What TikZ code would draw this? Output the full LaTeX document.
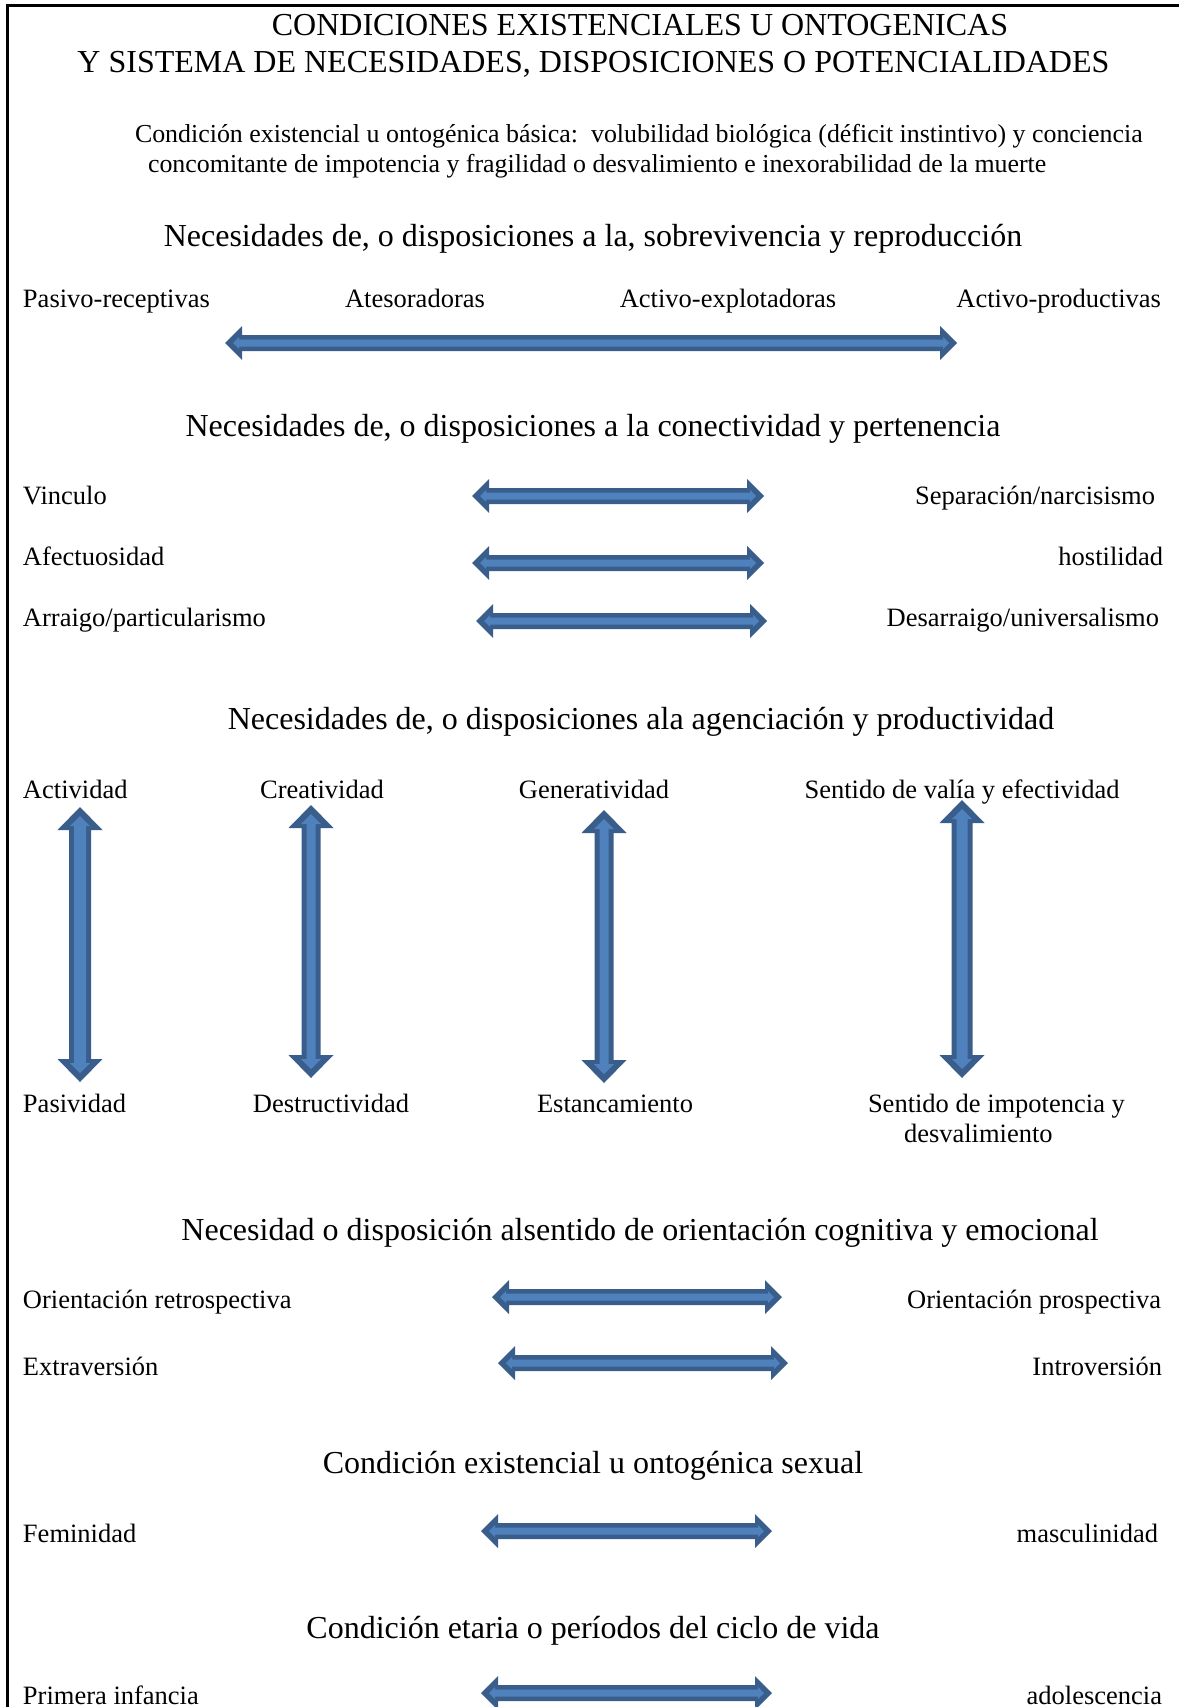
\documentclass[tikz,border=0pt]{standalone}
\usepackage{fontspec}
\setmainfont{Liberation Serif}
\definecolor{arrdark}{HTML}{3A5E8C}
\definecolor{arrlight}{HTML}{4F81BD}
\newcommand{\myharrow}[3]{%
 \fill[arrdark] (#1,#3) -- ({#1+17},{#3-17}) -- ({#1+17},{#3-8}) -- ({#2-17},{#3-8}) -- ({#2-17},{#3-17}) -- (#2,#3) -- ({#2-17},{#3+17}) -- ({#2-17},{#3+8}) -- ({#1+17},{#3+8}) -- ({#1+17},{#3+17}) -- cycle;
 \fill[arrlight] ({#1+8},#3) -- ({#1+14},{#3-6}) -- ({#1+14},{#3-3.5}) -- ({#2-14},{#3-3.5}) -- ({#2-14},{#3-6}) -- ({#2-8},#3) -- ({#2-14},{#3+6}) -- ({#2-14},{#3+3.5}) -- ({#1+14},{#3+3.5}) -- ({#1+14},{#3+6}) -- cycle;
}
\newcommand{\myvarrow}[4]{%
 \fill[arrdark] (#1,#2) -- ({#1+22.5},{#2+23}) -- ({#1+#4},{#2+23}) -- ({#1+#4},{#3-23}) -- ({#1+22.5},{#3-23}) -- (#1,#3) -- ({#1-22.5},{#3-23}) -- ({#1-#4},{#3-23}) -- ({#1-#4},{#2+23}) -- ({#1-22.5},{#2+23}) -- cycle;
 \fill[arrlight] (#1,{#2+9}) -- ({#1+10},{#2+19}) -- ({#1+#4-5},{#2+19}) -- ({#1+#4-5},{#3-19}) -- ({#1+10},{#3-19}) -- (#1,{#3-9}) -- ({#1-10},{#3-19}) -- ({#1-#4+5},{#3-19}) -- ({#1-#4+5},{#2+19}) -- ({#1-10},{#2+19}) -- cycle;
}
\begin{document}
\begin{tikzpicture}[x=1pt,y=-1pt,
  every node/.style={inner sep=0pt,outer sep=0pt},
  head/.style={font=\fontsize{32}{36}\selectfont,anchor=base},
  lbl/.style={font=\fontsize{26.5}{30}\selectfont},
  intro/.style={font=\fontsize{25.9}{30}\selectfont,anchor=base west},
  lw/.style={lbl,anchor=base west},
  le/.style={lbl,anchor=base east},
  lc/.style={lbl,anchor=base}]
\useasboundingbox (0,0) rectangle (1178,1707);
\draw[line width=2.5pt] (7.5,1720) -- (7.5,5.5) -- (1190,5.5);

% title
\node[head] (t1) at (640,36) {CONDICIONES EXISTENCIALES U ONTOGENICAS};
\node[head] (t2) at (593.5,73) {Y SISTEMA DE NECESIDADES, DISPOSICIONES O POTENCIALIDADES};
\node[intro] (i1) at (135,143) {Condición existencial u ontogénica básica:\ \ volubilidad biológica (déficit instintivo) y conciencia};
\node[intro] (i2) at (148,173) {concomitante de impotencia y fragilidad o desvalimiento e inexorabilidad de la muerte};

% section 1
\node[head] (h1) at (593,246) {Necesidades de, o disposiciones a la, sobrevivencia y reproducción};
\node[lw] (a1) at (23,307) {Pasivo-receptivas};
\node[lc] (a2) at (415,307) {Atesoradoras};
\node[lc] (a3) at (728,307) {Activo-explotadoras};
\node[le] (a4) at (1161,307) {Activo-productivas};
\myharrow{225}{957}{343}

% section 2
\node[head] (h2) at (593,436) {Necesidades de, o disposiciones a la conectividad y pertenencia};
\node[lw] (b1) at (23,504) {Vinculo};
\node[le] (b2) at (1155,504) {Separación/narcisismo};
\myharrow{472}{764}{496}
\node[lw] (c1) at (23,565) {Afectuosidad};
\node[le] (c2) at (1163,565) {hostilidad};
\myharrow{472}{764}{563}
\node[lw] (d1) at (23,626) {Arraigo/particularismo};
\node[le] (d2) at (1159,626) {Desarraigo/universalismo};
\myharrow{476}{767}{621}

% section 3
\node[head] (h3) at (641,729) {Necesidades de, o disposiciones ala agenciación y productividad};
\node[lw] (e1) at (23,798) {Actividad};
\node[lc] (e2) at (322,798) {Creatividad};
\node[lc] (e3) at (594,798) {Generatividad};
\node[lc] (e4) at (962,798) {Sentido de valía y efectividad};
\myvarrow{80}{807}{1082}{11}
\myvarrow{311}{805}{1078}{9.5}
\myvarrow{604}{810}{1083}{9.5}
\myvarrow{962}{800}{1078}{10.5}
\node[lw] (f1) at (23,1112) {Pasividad};
\node[lc] (f2) at (331,1112) {Destructividad};
\node[lc] (f3) at (615,1112) {Estancamiento};
\node[lw] (f4) at (868,1112) {Sentido de impotencia y};
\node[lw] (f5) at (904,1142) {desvalimiento};

% section 4
\node[head] (h4) at (640,1240) {Necesidad o disposición alsentido de orientación cognitiva y emocional};
\node[lw] (g1) at (23,1308) {Orientación retrospectiva};
\node[le] (g2) at (1161,1308) {Orientación prospectiva};
\myharrow{492}{782}{1297}
\node[lw] (k1) at (23,1375) {Extraversión};
\node[le] (k2) at (1162,1375) {Introversión};
\myharrow{498}{788}{1363}

% section 5
\node[head] (h5) at (593,1473) {Condición existencial u ontogénica sexual};
\node[lw] (m1) at (23,1542) {Feminidad};
\node[le] (m2) at (1158,1542) {masculinidad};
\myharrow{481}{772}{1531}

% section 6
\node[head] (h6) at (593,1638) {Condición etaria o períodos del ciclo de vida};
\node[lw] (n1) at (23,1704) {Primera infancia};
\node[le] (n2) at (1162,1704) {adolescencia};
\myharrow{481}{772}{1693}
\end{tikzpicture}
\end{document}
